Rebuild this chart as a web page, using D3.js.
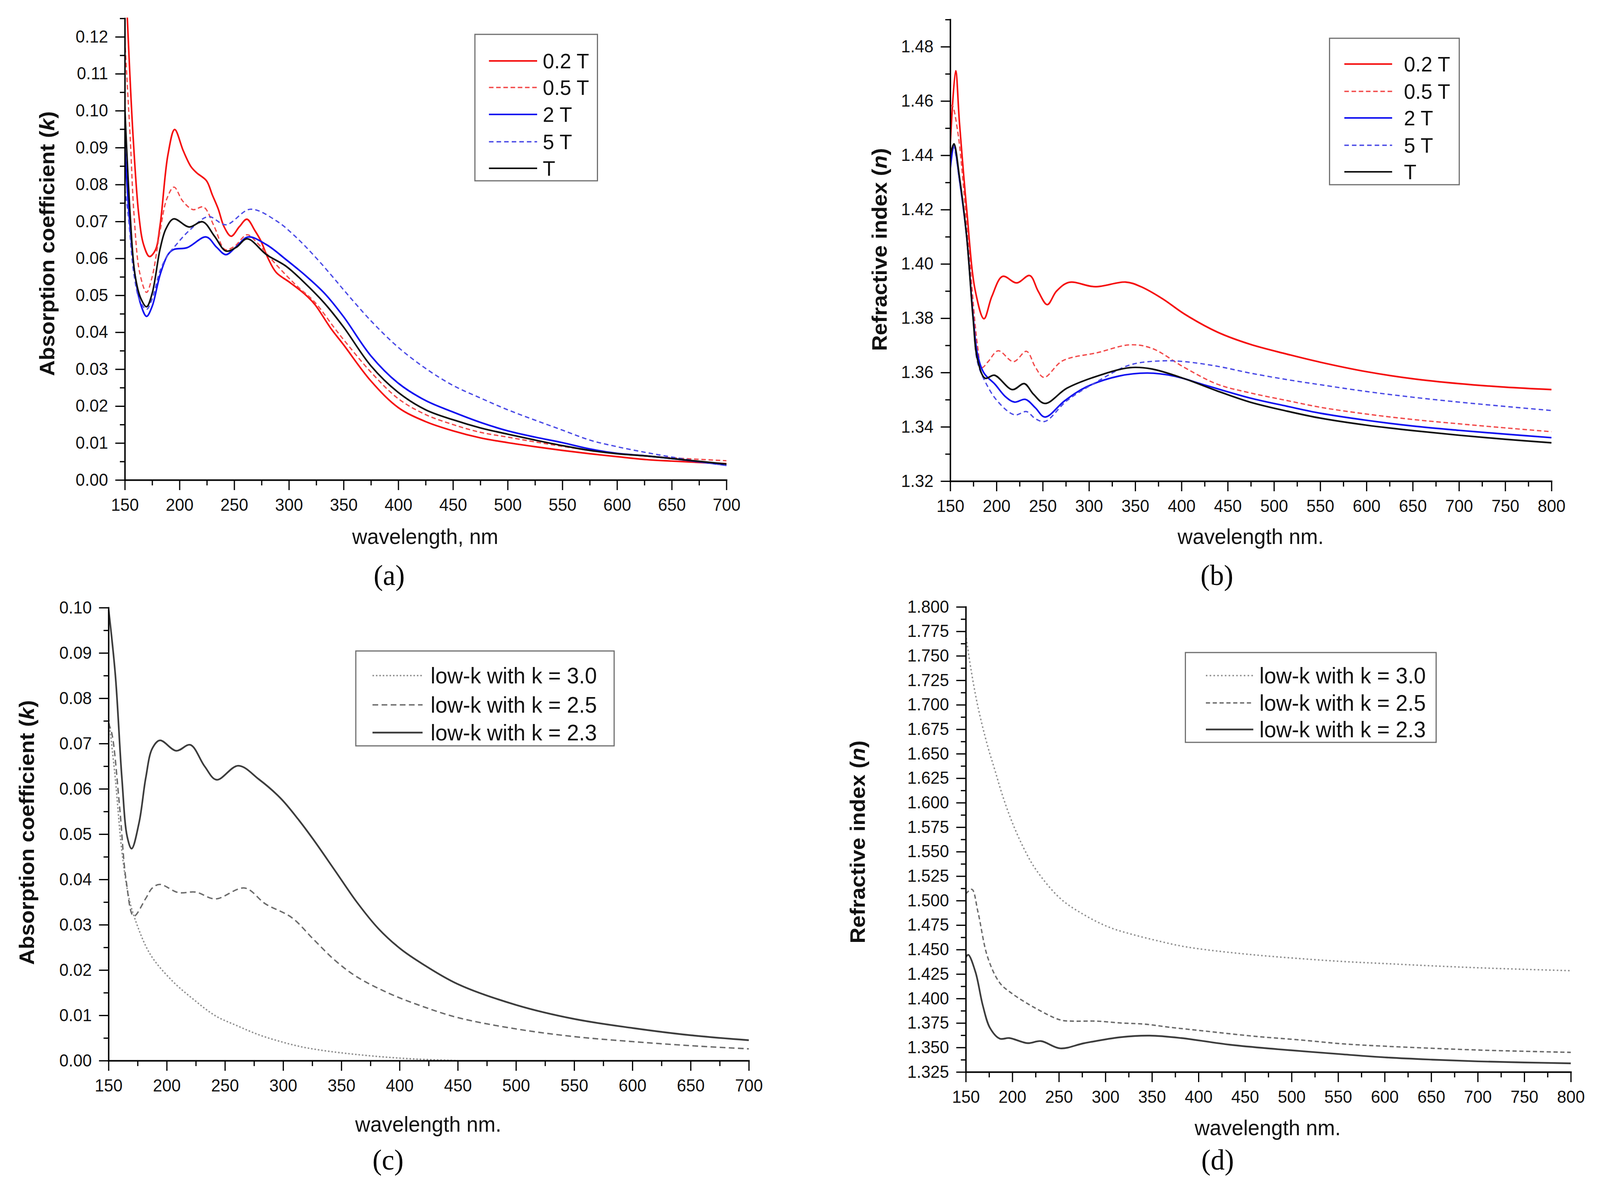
<!DOCTYPE html>
<html>
<head>
<meta charset="utf-8">
<script src="https://cdn.jsdelivr.net/npm/d3@7"></script>
<style>
  html, body { margin: 0; padding: 0; background: #ffffff; overflow: hidden; width: 100%; height: 100%; }
  svg { display: block; width: 100vw; height: 100vh; }
</style>
</head>
<body>
<svg id="chart" viewBox="0 0 4218 3055" preserveAspectRatio="none"></svg>
<script>
// ===================== DATA =====================
// Panel (a): absorption coefficient k vs wavelength
const aWl02 = [150, 152.2, 157.5, 162.8, 167.2, 172.5, 177.9, 182.3, 189.4, 195.6, 203.5, 210.6, 216, 224.7, 230, 235.4, 240.7, 247.2, 254.8, 261.6, 269, 274.3, 281, 288.4, 300.8, 315, 323.8, 338, 350, 375, 400, 425, 450, 475, 500, 525, 550, 575, 600, 627, 650, 700];
const aK02  = [0.142, 0.1258, 0.0934, 0.0718, 0.0637, 0.0605, 0.0622, 0.0691, 0.0880, 0.0949, 0.0891, 0.0848, 0.0831, 0.0810, 0.0772, 0.0734, 0.0686, 0.0660, 0.0686, 0.0706, 0.0675, 0.0648, 0.0600, 0.0562, 0.0535, 0.0502, 0.0475, 0.0412, 0.0366, 0.0268, 0.0196, 0.0158, 0.0133, 0.0114, 0.0101, 0.0090, 0.0080, 0.0071, 0.0063, 0.0055, 0.0051, 0.0044];

const aWl05 = [150, 154.9, 158.4, 163.7, 169.9, 175, 182.3, 188.5, 195, 203, 212.4, 222, 231.8, 241.6, 250, 261.9, 270.7, 288.4, 306, 323.8, 341.5, 350, 375, 400, 425, 450, 475, 500, 525, 550, 575, 600, 650, 700];
const aK05  = [0.119, 0.093, 0.072, 0.056, 0.0508, 0.055, 0.0675, 0.0762, 0.0793, 0.0755, 0.0732, 0.0739, 0.0686, 0.0624, 0.0632, 0.0664, 0.0643, 0.0583, 0.0529, 0.0481, 0.0412, 0.0380, 0.0292, 0.0220, 0.0177, 0.0150, 0.0129, 0.0116, 0.0103, 0.0091, 0.0080, 0.0071, 0.0060, 0.0052];

const aWl2 = [150, 153.9, 159.3, 164.6, 169.9, 175, 182.3, 189.4, 194.7, 207, 224.4, 234, 242.4, 252, 262.8, 279.6, 297.3, 315, 332.7, 350, 375, 400, 425, 450, 475, 500, 525, 550, 575, 600, 627, 650, 700];
const aK2  = [0.0907, 0.0718, 0.0556, 0.0475, 0.0443, 0.0470, 0.0556, 0.0610, 0.0624, 0.0629, 0.0658, 0.0630, 0.0610, 0.0632, 0.0658, 0.0637, 0.0597, 0.0554, 0.0505, 0.0442, 0.0336, 0.0262, 0.0215, 0.0184, 0.0156, 0.0133, 0.0116, 0.0101, 0.0084, 0.0072, 0.0065, 0.0058, 0.0040];

const aWl5 = [150, 153.1, 158.4, 163.7, 169.9, 175, 182.3, 189.4, 194.7, 208.8, 226.5, 242.4, 264.6, 288.4, 306, 323.8, 341.5, 350, 375, 400, 425, 450, 475, 500, 525, 550, 575, 600, 627, 650, 700];
const aK5  = [0.0789, 0.0718, 0.0556, 0.0486, 0.0462, 0.0490, 0.0567, 0.0610, 0.0629, 0.0675, 0.0713, 0.0691, 0.0733, 0.0702, 0.0659, 0.0605, 0.0545, 0.0515, 0.0431, 0.0359, 0.0302, 0.0256, 0.0222, 0.0190, 0.0162, 0.0135, 0.0108, 0.0090, 0.0074, 0.0062, 0.0039];

const aWlT = [150, 154.9, 159.3, 164.6, 169.9, 175, 182.3, 187.6, 194.7, 208.8, 221.2, 232, 242.4, 252, 261.9, 279.6, 297.3, 315, 332.7, 350, 375, 400, 425, 450, 475, 500, 525, 550, 575, 600, 627, 650, 700];
const aKT  = [0.101, 0.0718, 0.0556, 0.0492, 0.0469, 0.0505, 0.0626, 0.0680, 0.0707, 0.0685, 0.0699, 0.0660, 0.0620, 0.0630, 0.0653, 0.0610, 0.0579, 0.0532, 0.0478, 0.0414, 0.0309, 0.0237, 0.0190, 0.0163, 0.0141, 0.0124, 0.0108, 0.0093, 0.0080, 0.0071, 0.0065, 0.0058, 0.0043];

// Panel (b): refractive index n vs wavelength
const bWl02 = [150, 155.9, 160, 167.7, 177.1, 186.5, 195, 206.6, 221.9, 236, 245, 254.9, 265, 278.5, 306.7, 339.7, 356.2, 379.8, 403.4, 438.7, 474.1, 513.7, 550, 600, 650, 700, 750, 800];
const bN02  = [1.4437, 1.4711, 1.452, 1.4205, 1.3901, 1.3798, 1.388, 1.3954, 1.3930, 1.3957, 1.390, 1.3850, 1.390, 1.3932, 1.3916, 1.3933, 1.3916, 1.3871, 1.3815, 1.3749, 1.3704, 1.3668, 1.3638, 1.3603, 1.3577, 1.3559, 1.3546, 1.3537];

const bWl05 = [150, 152, 158, 167.7, 179.5, 184.2, 191, 201.9, 218.4, 232.5, 242, 251.4, 271.4, 309.1, 344.5, 368, 403.4, 438.7, 474.1, 513.7, 550, 600, 650, 700, 750, 800];
const bN05  = [1.4579, 1.4584, 1.449, 1.4154, 1.3699, 1.3618, 1.364, 1.3680, 1.3640, 1.3678, 1.362, 1.3582, 1.3643, 1.3673, 1.3702, 1.3689, 1.3618, 1.3557, 1.3525, 1.3497, 1.3472, 1.3447, 1.3427, 1.3411, 1.3396, 1.3382];

const bWl2 = [150, 154, 160, 167.7, 174.7, 179.5, 186.5, 198.3, 210, 219.5, 231.3, 242, 252.5, 273.8, 297.3, 332.7, 363.3, 391.6, 427, 474.1, 513.7, 550, 600, 650, 700, 750, 800];
const bN2  = [1.4346, 1.4437, 1.431, 1.4103, 1.381, 1.3668, 1.3598, 1.3557, 1.351, 1.3491, 1.3501, 1.347, 1.3436, 1.3496, 1.3547, 1.3587, 1.3598, 1.3587, 1.3552, 1.3506, 1.3476, 1.3450, 1.3424, 1.3403, 1.3387, 1.3373, 1.3360];

const bWl5 = [150, 153, 160, 167.7, 174.7, 179.5, 187.7, 200.7, 219.5, 232.5, 242, 252.5, 276.1, 309.1, 344.5, 379.8, 403.4, 438.7, 474.1, 513.7, 550, 600, 650, 700, 750, 800];
const bN5  = [1.4407, 1.4437, 1.431, 1.4103, 1.380, 1.3638, 1.3567, 1.3496, 1.3444, 1.3456, 1.343, 1.3420, 1.3496, 1.3567, 1.3628, 1.3643, 1.3640, 1.3623, 1.3598, 1.3574, 1.3555, 1.3530, 1.3509, 1.3491, 1.3475, 1.3460];

const bWlT = [150, 154, 160, 167.7, 174.7, 179.5, 187.7, 197.8, 217.2, 230.1, 240, 252.5, 276.1, 309.1, 344.5, 368, 403.4, 438.7, 474.1, 513.7, 550, 600, 650, 700, 750, 800];
const bNT  = [1.4397, 1.4442, 1.432, 1.4103, 1.380, 1.3648, 1.3579, 1.3590, 1.3537, 1.3559, 1.352, 1.3486, 1.3542, 1.3587, 1.3618, 1.3613, 1.3577, 1.3532, 1.3491, 1.3458, 1.3432, 1.3406, 1.3386, 1.3369, 1.3354, 1.3341];

// Panel (c): absorption coefficient of low-k films
const cWl30 = [150, 155.8, 161.5, 167.1, 172.7, 185.8, 204.4, 223.1, 241.8, 260.5, 279.2, 297.9, 316.6, 335.3, 354, 382, 410, 450];
const cK30  = [0.0760, 0.0624, 0.0462, 0.0365, 0.0313, 0.0235, 0.0177, 0.0135, 0.0099, 0.0077, 0.0057, 0.0042, 0.0030, 0.0022, 0.0016, 0.0009, 0.0004, 0.0000];

const cWl25 = [150, 153, 159.6, 165.2, 171.7, 182, 187.6, 194.2, 210, 225, 241.8, 267, 284.8, 307.3, 326, 344.7, 363.3, 391.4, 419.4, 450, 500, 550, 600, 650, 700];
const cK25  = [0.0745, 0.0721, 0.0559, 0.0397, 0.0319, 0.0358, 0.0381, 0.0389, 0.0371, 0.0372, 0.0357, 0.0381, 0.0346, 0.0316, 0.0268, 0.0221, 0.0185, 0.0148, 0.0120, 0.0095, 0.0070, 0.0053, 0.0042, 0.0033, 0.0026];

const cWl23 = [150, 155.9, 161.5, 166.1, 169.9, 176.4, 182, 187.6, 194.2, 208.2, 220.3, 232.5, 242.8, 261.5, 279.2, 297.9, 312.9, 326, 344.7, 363.3, 382, 400.7, 419.4, 450, 500, 550, 600, 650, 700];
const cK23  = [0.0998, 0.0851, 0.0624, 0.0494, 0.0468, 0.0527, 0.0624, 0.0689, 0.0707, 0.0684, 0.0697, 0.0650, 0.0620, 0.0651, 0.0621, 0.0579, 0.0533, 0.0488, 0.0419, 0.0350, 0.0291, 0.0247, 0.0214, 0.0169, 0.0123, 0.0092, 0.0072, 0.0056, 0.0045];

// Panel (d): refractive index of low-k films
const dWl30 = [150, 155.3, 163.1, 173.5, 181.3, 189.1, 199.5, 212.5, 225.5, 251.5, 277.5, 303.5, 329.5, 355.5, 381.5, 407.5, 459.4, 511.4, 555, 600, 650, 700, 750, 800];
const dN30  = [1.772, 1.7379, 1.6978, 1.6578, 1.6332, 1.6085, 1.5808, 1.5531, 1.5315, 1.5022, 1.4853, 1.4730, 1.4653, 1.4591, 1.4536, 1.4499, 1.4446, 1.4406, 1.4378, 1.4357, 1.4334, 1.4314, 1.4298, 1.4284];

const dWl25 = [150, 156.6, 163.1, 173.5, 186.5, 199.5, 225.5, 251.5, 264.5, 290.5, 316.5, 342.5, 368.5, 407.5, 459.4, 511.4, 555, 600, 650, 700, 750, 800];
const dN25  = [1.5068, 1.5115, 1.4884, 1.4422, 1.4160, 1.4052, 1.3898, 1.3781, 1.3769, 1.3769, 1.3750, 1.3738, 1.3707, 1.3667, 1.3615, 1.3575, 1.3537, 1.3513, 1.3492, 1.3474, 1.3461, 1.3450];

const dWl23 = [150, 152.7, 160.5, 168.3, 176.1, 186.5, 196.9, 216.4, 230.7, 251.5, 277.5, 316.5, 347.7, 381.5, 433.5, 485.4, 555, 600, 650, 700, 750, 800];
const dN23  = [1.4420, 1.4446, 1.4268, 1.3929, 1.3698, 1.3590, 1.3596, 1.3544, 1.3565, 1.3491, 1.3544, 1.3605, 1.3621, 1.3596, 1.3528, 1.3482, 1.3430, 1.3399, 1.3376, 1.3358, 1.3347, 1.3338];

// Tick values
const xTicks700 = [150, 200, 250, 300, 350, 400, 450, 500, 550, 600, 650, 700];
const xTicks800 = [150, 200, 250, 300, 350, 400, 450, 500, 550, 600, 650, 700, 750, 800];
const aYTicks = [0.00, 0.01, 0.02, 0.03, 0.04, 0.05, 0.06, 0.07, 0.08, 0.09, 0.10, 0.11, 0.12];
const bYTicks = [1.32, 1.34, 1.36, 1.38, 1.40, 1.42, 1.44, 1.46, 1.48];
const cYTicks = [0.00, 0.01, 0.02, 0.03, 0.04, 0.05, 0.06, 0.07, 0.08, 0.09, 0.10];
const dYTicks = [1.325, 1.350, 1.375, 1.400, 1.425, 1.450, 1.475, 1.500, 1.525, 1.550, 1.575, 1.600, 1.625, 1.650, 1.675, 1.700, 1.725, 1.750, 1.775, 1.800];

// Legend labels
const fieldLabels = ["0.2 T", "0.5 T", "2 T", "5 T", "T"];
const lowkLabels = ["low-k with k = 3.0", "low-k with k = 2.5", "low-k with k = 2.3"];

// ===================== STYLE =====================
const RED = "#f50f0f", RED_D = "#f24a4a", BLUE = "#1010f0", BLUE_D = "#4a4ae6", BLACK = "#111111";
const G_SOLID = "#3c3c3c", G_DASH = "#6a6a6a", G_DOT = "#8c8c8c";
const SANS = "'Liberation Sans', Arial, Helvetica, sans-serif";
const SERIF = "'Liberation Serif', 'Times New Roman', serif";

const fieldStyles = [
  {color: RED, dash: null, width: 4.2},
  {color: RED_D, dash: "12,7", width: 3.4},
  {color: BLUE, dash: null, width: 4.2},
  {color: BLUE_D, dash: "12,8", width: 3.4},
  {color: BLACK, dash: null, width: 4.2}
];
const lowkStylesC = [
  {color: G_DOT, dash: "4,5", width: 3.6},
  {color: G_DASH, dash: "15,9", width: 3.6},
  {color: G_SOLID, dash: null, width: 4.4}
];
const lowkStylesD = [
  {color: G_DOT, dash: "4,6", width: 3.6},
  {color: G_DASH, dash: "11,7", width: 3.6},
  {color: G_SOLID, dash: null, width: 4.4}
];

const panels = [
  {
    id: "a", xDomain: [150, 700], xRange: [329, 1915], yDomain: [0, 0.125], yRange: [1229, 47],
    xTicks: xTicks700, xMinorStep: 25, yTicks: aYTicks, yMinorStep: 0.005, yFmt: ".2f",
    series: [[aWl02, aK02], [aWl05, aK05], [aWl2, aK2], [aWl5, aK5], [aWlT, aKT]],
    styles: fieldStyles, labels: fieldLabels,
    legend: {x: 1252, y: 88, w: 323, h: 375, rows: [156, 224, 293, 363, 431], l0: 1289, l1: 1416, tx: 1431, fs: 54},
    yTitle: {pre: "Absorption coefficient (", sym: "k", post: ")", x: 124, y: 624},
    xTitle: {text: "wavelength, nm", x: 1121, y: 1393},
    tag: {text: "(a)", x: 1026, y: 1498}
  },
  {
    id: "b", xDomain: [150, 800], xRange: [2505, 4090], yDomain: [1.32, 1.49], yRange: [1232, 50],
    xTicks: xTicks800, xMinorStep: 25, yTicks: bYTicks, yMinorStep: 0.01, yFmt: ".2f",
    series: [[bWl02, bN02], [bWl05, bN05], [bWl2, bN2], [bWl5, bN5], [bWlT, bNT]],
    styles: fieldStyles, labels: fieldLabels,
    legend: {x: 3505, y: 98, w: 342, h: 375, rows: [164, 234, 302, 372, 440], l0: 3544, l1: 3670, tx: 3701, fs: 54},
    yTitle: {pre: "Refractive index (", sym: "n", post: ")", x: 2318, y: 639},
    xTitle: {text: "wavelength nm.", x: 3297, y: 1393},
    tag: {text: "(b)", x: 3208, y: 1498}
  },
  {
    id: "c", xDomain: [150, 700], xRange: [286, 1974], yDomain: [0, 0.10], yRange: [2716, 1556],
    xTicks: xTicks700, xMinorStep: 25, yTicks: cYTicks, yMinorStep: 0.005, yFmt: ".2f",
    series: [[cWl30, cK30], [cWl25, cK25], [cWl23, cK23]],
    styles: lowkStylesC, labels: lowkLabels,
    legend: {x: 938, y: 1667, w: 681, h: 243, rows: [1730, 1805, 1876], l0: 982, l1: 1114, tx: 1135, fs: 57},
    yTitle: {pre: "Absorption coefficient (", sym: "k", post: ")", x: 70, y: 2132},
    xTitle: {text: "wavelength nm.", x: 1129, y: 2898},
    tag: {text: "(c)", x: 1023, y: 2995}
  },
  {
    id: "d", xDomain: [150, 800], xRange: [2546, 4141], yDomain: [1.325, 1.8], yRange: [2745, 1554],
    xTicks: xTicks800, xMinorStep: 25, yTicks: dYTicks, yMinorStep: 0.0125, yFmt: ".3f",
    series: [[dWl30, dN30], [dWl25, dN25], [dWl23, dN23]],
    styles: lowkStylesD, labels: lowkLabels,
    legend: {x: 3125, y: 1671, w: 661, h: 230, rows: [1730, 1800, 1868], l0: 3179, l1: 3304, tx: 3320, fs: 57},
    yTitle: {pre: "Refractive index (", sym: "n", post: ")", x: 2260, y: 2156},
    xTitle: {text: "wavelength nm.", x: 3342, y: 2907},
    tag: {text: "(d)", x: 3210, y: 2995}
  }
];

// ===================== DRAW =====================
const svg = d3.select("#chart");
svg.append("rect").attr("width", 4218).attr("height", 3055).attr("fill", "#fff");
const defs = svg.append("defs");

function minorValues(major, step, domMax) {
  const out = [];
  for (let i = 0; i < major.length - 1; i++) {
    out.push((major[i] + major[i + 1]) / 2);
  }
  const last = major[major.length - 1] + step;
  if (last <= domMax + 1e-9) out.push(last);
  return out;
}

panels.forEach(p => {
  const g = svg.append("g").attr("class", "panel-" + p.id);
  const x = d3.scaleLinear().domain(p.xDomain).range(p.xRange);
  const y = d3.scaleLinear().domain(p.yDomain).range(p.yRange);

  // clip region
  defs.append("clipPath").attr("id", "clip-" + p.id)
    .append("rect")
    .attr("x", p.xRange[0]).attr("y", p.yRange[1] - 2)
    .attr("width", p.xRange[1] - p.xRange[0] + 4)
    .attr("height", p.yRange[0] - p.yRange[1] + 2);

  // curves
  const line = d3.line()
    .x(d => x(d[0])).y(d => y(d[1]))
    .curve(d3.curveCatmullRom.alpha(0.5));
  const curves = g.append("g").attr("clip-path", `url(#clip-${p.id})`);
  p.series.forEach((s, i) => {
    const st = p.styles[i];
    curves.append("path")
      .datum(d3.zip(s[0], s[1]))
      .attr("d", line)
      .attr("fill", "none")
      .attr("stroke", st.color)
      .attr("stroke-width", st.width)
      .attr("stroke-linejoin", "round")
      .attr("stroke-dasharray", st.dash);
  });

  // axes
  const xMinor = minorValues(p.xTicks, p.xMinorStep, p.xDomain[1]);
  const yMinor = minorValues(p.yTicks, p.yMinorStep, p.yDomain[1]);

  const gxm = g.append("g").attr("transform", `translate(0,${p.yRange[0]})`)
    .call(d3.axisBottom(x).tickValues(xMinor).tickSize(14).tickSizeOuter(0).tickFormat(""));
  gxm.select(".domain").remove();
  const gym = g.append("g").attr("transform", `translate(${p.xRange[0]},0)`)
    .call(d3.axisLeft(y).tickValues(yMinor).tickSize(13).tickSizeOuter(0).tickFormat(""));
  gym.select(".domain").remove();

  const gx = g.append("g").attr("transform", `translate(0,${p.yRange[0]})`)
    .call(d3.axisBottom(x).tickValues(p.xTicks).tickSize(26).tickSizeOuter(0).tickPadding(22).tickFormat(d3.format("d")));
  const gy = g.append("g").attr("transform", `translate(${p.xRange[0]},0)`)
    .call(d3.axisLeft(y).tickValues(p.yTicks).tickSize(25).tickSizeOuter(0).tickPadding(19).tickFormat(d3.format(p.yFmt)));

  [gx, gy, gxm, gym].forEach(a => {
    a.selectAll(".tick line").attr("stroke", "#000").attr("stroke-width", 3.2);
    a.selectAll(".domain").attr("stroke", "#000").attr("stroke-width", 3.8).attr("stroke-linecap", "square");
    a.selectAll(".tick text").attr("font-family", SANS).attr("font-size", 44).attr("fill", "#111");
  });

  // legend
  const L = p.legend;
  const lg = g.append("g").attr("class", "legend");
  lg.append("rect").attr("x", L.x).attr("y", L.y).attr("width", L.w).attr("height", L.h)
    .attr("fill", "#fff").attr("stroke", "#6e6e6e").attr("stroke-width", 3);
  p.labels.forEach((lab, i) => {
    const st = p.styles[i];
    lg.append("line").attr("x1", L.l0).attr("x2", L.l1).attr("y1", L.rows[i]).attr("y2", L.rows[i])
      .attr("stroke", st.color).attr("stroke-width", st.width).attr("stroke-dasharray", st.dash);
    lg.append("text").attr("x", L.tx).attr("y", L.rows[i]).attr("dy", "0.35em")
      .attr("font-family", SANS).attr("font-size", L.fs).attr("fill", "#111").text(lab);
  });

  // y title
  const yt = g.append("text")
    .attr("transform", `translate(${p.yTitle.x},${p.yTitle.y}) rotate(-90)`)
    .attr("text-anchor", "middle").attr("dy", "0.35em")
    .attr("font-family", SANS).attr("font-size", 56).attr("font-weight", "bold").attr("fill", "#111");
  yt.append("tspan").text(p.yTitle.pre);
  yt.append("tspan").attr("font-style", "italic").text(p.yTitle.sym);
  yt.append("tspan").text(p.yTitle.post);

  // x title
  g.append("text").attr("x", p.xTitle.x).attr("y", p.xTitle.y)
    .attr("text-anchor", "middle").attr("font-family", SANS).attr("font-size", 55).attr("fill", "#111")
    .text(p.xTitle.text);

  // panel tag
  g.append("text").attr("x", p.tag.x).attr("y", p.tag.y)
    .attr("text-anchor", "middle").attr("font-family", SERIF).attr("font-size", 74).attr("fill", "#000")
    .text(p.tag.text);
});
</script>
</body>
</html>
